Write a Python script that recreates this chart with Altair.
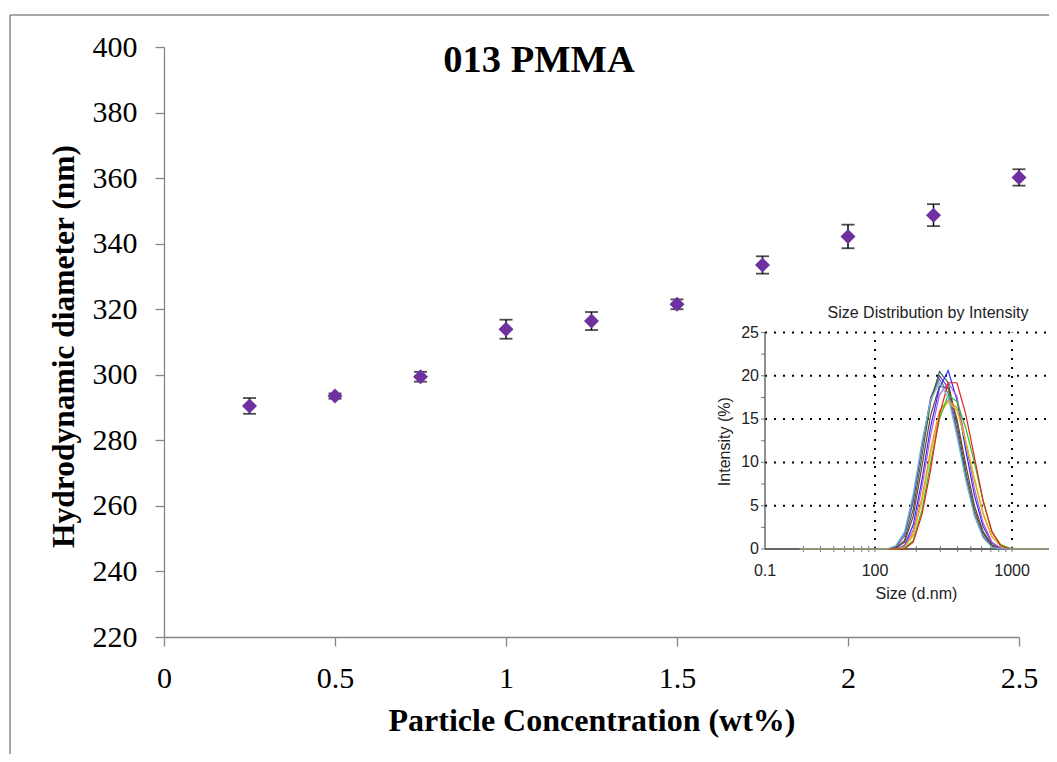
import altair as alt
import pandas as pd

# ---------------- main chart data ----------------
conc = [0.25, 0.5, 0.75, 1.0, 1.25, 1.5, 1.75, 2.0, 2.25, 2.5]
diam = [290.5, 293.5, 299.4, 313.9, 316.4, 321.5, 333.5, 342.2, 348.7, 360.2]
err = [2.4, 0.8, 1.5, 2.9, 2.75, 1.5, 2.65, 3.6, 3.35, 2.5]
x_ticks = [0, 0.5, 1, 1.5, 2, 2.5]
y_ticks = [220, 240, 260, 280, 300, 320, 340, 360, 380, 400]
title_text = "013 PMMA"
x_title = "Particle Concentration (wt%)"
y_title = "Hydrodynamic diameter (nm)"

# ---------------- inset data ----------------
sizes = [28.21, 32.67, 37.84, 43.82, 50.75, 58.77, 68.06, 78.82, 91.28, 105.7,
         122.4, 141.8, 164.2, 190.1, 220.2, 255.0, 295.3, 342.0, 396.1, 458.7,
         531.2, 615.1, 712.4, 825.0, 955.4, 1106, 1281, 1484, 1718, 1990, 2305]
run_slate = [0, 0, 0, 0, 0, 0, 0, 0, 0, 0,
             0, 0.3, 1.8, 6.0, 12.2, 17.4, 19.6, 18.0, 13.4, 8.2,
             4.0, 1.5, 0.3, 0, 0, 0, 0, 0, 0, 0, 0]
run_purple = [0, 0, 0, 0, 0, 0, 0, 0, 0, 0,
              0, 0.2, 1.5, 5.5, 11.8, 17.5, 20.0, 18.6, 13.8, 8.4,
              4.0, 1.4, 0.3, 0, 0, 0, 0, 0, 0, 0, 0]
run_dkgreen = [0, 0, 0, 0, 0, 0, 0, 0, 0, 0,
               0, 0.1, 1.0, 4.6, 10.8, 17.0, 20.5, 19.2, 14.5, 9.0,
               4.5, 1.8, 0.4, 0, 0, 0, 0, 0, 0, 0, 0]
run_brown = [0, 0, 0, 0, 0, 0, 0, 0, 0, 0,
             0, 0.1, 0.8, 3.8, 9.6, 15.5, 18.8, 18.6, 15.0, 9.8,
             5.0, 2.0, 0.5, 0, 0, 0, 0, 0, 0, 0, 0]
run_blue = [0, 0, 0, 0, 0, 0, 0, 0, 0, 0,
            0, 0, 0.4, 2.8, 8.0, 14.2, 18.6, 20.6, 17.2, 11.5,
            6.2, 2.6, 0.7, 0.1, 0, 0, 0, 0, 0, 0, 0]
run_violet = [0, 0, 0, 0, 0, 0, 0, 0, 0, 0,
              0, 0, 0.3, 2.2, 7.2, 13.2, 17.8, 19.2, 17.6, 12.4,
              7.0, 3.0, 0.8, 0.1, 0, 0, 0, 0, 0, 0, 0]
run_orange = [0, 0, 0, 0, 0, 0, 0, 0, 0, 0,
              0, 0, 0.2, 1.8, 6.0, 11.5, 16.0, 17.2, 16.3, 12.5,
              8.0, 4.0, 1.4, 0.4, 0.1, 0, 0, 0, 0, 0, 0]
run_yellow = [0, 0, 0, 0, 0, 0, 0, 0, 0, 0,
              0, 0, 0.2, 1.5, 5.5, 11.0, 15.5, 17.0, 16.0, 12.5,
              8.2, 4.2, 1.5, 0.3, 0, 0, 0, 0, 0, 0, 0]
run_green = [0, 0, 0, 0, 0, 0, 0, 0, 0, 0,
             0, 0, 0.1, 1.0, 4.5, 10.0, 15.0, 17.8, 17.0, 14.0,
             10.0, 5.5, 2.0, 0.5, 0.1, 0, 0, 0, 0, 0, 0]
run_red = [0, 0, 0, 0, 0, 0, 0, 0, 0, 0,
           0, 0, 0, 0.8, 4.0, 9.2, 15.5, 19.2, 19.2, 15.6,
           10.6, 5.6, 2.0, 0.4, 0, 0, 0, 0, 0, 0, 0]
run_teal = [0, 0, 0, 0, 0, 0, 0, 0, 0, 0,
            0, 0.4, 2.0, 6.4, 12.4, 17.2, 19.2, 17.5, 13.0, 8.0,
            3.8, 1.3, 0.2, 0, 0, 0, 0, 0, 0, 0, 0]
run_names = ["Record 1", "Record 2", "Record 3", "Record 4", "Record 5", "Record 6",
             "Record 7", "Record 8", "Record 9", "Record 10", "Record 11"]
run_values = [run_slate, run_purple, run_dkgreen, run_brown, run_blue, run_violet,
              run_orange, run_yellow, run_green, run_red, run_teal]
run_colors = ["#6a7c96", "#7b3fc4", "#2f6b3a", "#7a3b2e", "#2b2bff", "#b05ad8",
              "#f08a1e", "#d6c21e", "#2dbe2d", "#e8221b", "#6fbfc9"]

inset_title = "Size Distribution by Intensity"
inset_xtitle = "Size (d.nm)"
inset_ytitle = "Intensity (%)"
inset_xmin, inset_xmax = 15.74, 2128
inset_ymin, inset_ymax = 0, 25
inset_grid_y = [5, 10, 15, 20, 25]
inset_grid_x = [100, 1000]
inset_ytick_values = [0, 2.5, 5, 7.5, 10, 12.5, 15, 17.5, 20, 22.5, 25]
inset_ylabel_values = [0, 5, 10, 15, 20, 25]
inset_ylabel_text = ["0", "5", "10", "15", "20", "25"]
inset_xtick_values = [30, 40, 50, 60, 70, 80, 90, 100,
                      200, 300, 400, 500, 600, 700, 800, 900, 1000, 2000]
inset_xlabel_values = [15.74, 100, 1000]
inset_xlabel_text = ["0.1", "100", "1000"]

SERIF = "Liberation Serif"
SANS = "Liberation Sans"
AXGRAY = "#868686"
FRAME = "#8a8a8a"
PURPLE = "#7030A0"
INS_FS = 16

# ---------------- main chart ----------------
main_df = pd.DataFrame({
    "conc": conc,
    "diam": diam,
    "lo": [d - e for d, e in zip(diam, err)],
    "hi": [d + e for d, e in zip(diam, err)],
})

main_xscale = alt.Scale(domain=[0, 2.5], nice=False, zero=False)
main_yscale = alt.Scale(domain=[220, 400], nice=False, zero=False)

main_xaxis = alt.Axis(
    orient="bottom", values=x_ticks, format="~g", grid=False,
    domainColor=AXGRAY, domainWidth=1.3, tickColor=AXGRAY, tickWidth=1.3, tickSize=9,
    labelFont=SERIF, labelFontSize=30, labelColor="black", labelBaseline="alphabetic",
    labelPadding=41, labelFlush=False, labelOverlap=False,
    titleFont=SERIF, titleFontSize=32, titleFontWeight="bold", titleColor="black",
    titleX=427.5, titleY=93, titleBaseline="alphabetic", titleAlign="center",
)
main_yaxis = alt.Axis(
    orient="left", values=y_ticks, grid=False,
    domainColor=AXGRAY, domainWidth=1.3, tickColor=AXGRAY, tickWidth=1.3, tickSize=9,
    labelFont=SERIF, labelFontSize=30, labelColor="black", labelPadding=18,
    labelFlush=False, labelOverlap=False,
    titleFont=SERIF, titleFontSize=31.5, titleFontWeight="bold", titleColor="black",
    titleX=-91, titleY=299, titleAngle=270, titleBaseline="alphabetic", titleAlign="center",
)


def MX(field):
    return alt.X(f"{field}:Q", scale=main_xscale, axis=main_xaxis, title=x_title)


def MY(field):
    return alt.Y(f"{field}:Q", scale=main_yscale, axis=main_yaxis, title=y_title)


base = alt.Chart(main_df)
err_rule = base.mark_rule(color="black", strokeWidth=1.5).encode(
    x=MX("conc"), y=MY("lo"), y2="hi:Q")
cap_lo = base.mark_tick(orient="horizontal", size=13, thickness=1.8, color="black").encode(
    x=MX("conc"), y=MY("lo"))
cap_hi = base.mark_tick(orient="horizontal", size=13, thickness=1.8, color="black").encode(
    x=MX("conc"), y=MY("hi"))
points = base.mark_point(shape="diamond", filled=True, size=225, color=PURPLE,
                         opacity=1, strokeWidth=0).encode(x=MX("conc"), y=MY("diam"))

one = pd.DataFrame({"t": [title_text]})
title_mark = alt.Chart(one).mark_text(
    font=SERIF, fontSize=38.5, fontWeight="bold", color="black",
    align="center", baseline="alphabetic").encode(
    text="t:N", x=alt.value(375), y=alt.value(25))

frame_df = pd.DataFrame({"k": [0]})
frame_left = alt.Chart(frame_df).mark_rule(color=FRAME, strokeWidth=1.5).encode(
    x=alt.value(-154), y=alt.value(-32), y2=alt.value(720))
frame_top = alt.Chart(frame_df).mark_rule(color=FRAME, strokeWidth=1.5).encode(
    x=alt.value(-154), x2=alt.value(900), y=alt.value(-32))

main_layer = alt.layer(frame_left, frame_top, err_rule, cap_lo, cap_hi, points, title_mark)

# ---------------- inset ----------------
ins_xscale = alt.Scale(type="log", domain=[inset_xmin, inset_xmax], range=[601, 893], nice=False)
ins_yscale = alt.Scale(domain=[inset_ymin, inset_ymax], range=[502, 285.5], nice=False, zero=False)


def IX(field):
    return alt.X(f"{field}:Q", scale=ins_xscale, axis=None)


def IY(field):
    return alt.Y(f"{field}:Q", scale=ins_yscale, axis=None)


rows = []
for name, vals in zip(run_names, run_values):
    for s, v in zip(sizes, vals):
        rows.append({"run": name, "size": s, "intensity": v})
curve_df = pd.DataFrame(rows)

gh_df = pd.DataFrame({"g": inset_grid_y, "x0": inset_xmin, "x1": inset_xmax})
gv_df = pd.DataFrame({"g": inset_grid_x, "y0": inset_ymin, "y1": inset_ymax})
grid_h = alt.Chart(gh_df).mark_rule(color="black", strokeWidth=2, strokeDash=[2, 7]).encode(
    x=IX("x0"), x2="x1:Q", y=IY("g"))
grid_v = alt.Chart(gv_df).mark_rule(color="black", strokeWidth=2, strokeDash=[2, 7]).encode(
    y=IY("y0"), y2="y1:Q", x=IX("g"))

axx_df = pd.DataFrame({"x0": [inset_xmin], "x1": [inset_xmax], "y": [inset_ymin]})
axy_df = pd.DataFrame({"x": [inset_xmin], "y0": [inset_ymin], "y1": [inset_ymax]})
axis_x = alt.Chart(axx_df).mark_rule(color="#666666", strokeWidth=1.8).encode(
    x=IX("x0"), x2="x1:Q", y=IY("y"))
axis_y = alt.Chart(axy_df).mark_rule(color="#555555", strokeWidth=1.3).encode(
    x=IX("x"), y=IY("y0"), y2="y1:Q")

xt_df = pd.DataFrame({"t": inset_xtick_values, "y": inset_ymin})
yt_df = pd.DataFrame({"t": inset_ytick_values, "x": inset_xmin})
xticks = alt.Chart(xt_df).mark_tick(orient="vertical", size=6, thickness=1, color="#444444").encode(
    x=IX("t"), y=IY("y"))
yticks = alt.Chart(yt_df).mark_tick(orient="horizontal", size=4, thickness=1, color="#444444",
                                    xOffset=-2).encode(x=IX("x"), y=IY("t"))

curves = alt.Chart(curve_df).mark_line(strokeWidth=1.2).encode(
    x=IX("size"), y=IY("intensity"),
    color=alt.Color("run:N", scale=alt.Scale(domain=run_names, range=run_colors), legend=None),
    order=alt.Order("size:Q"))

xl_df = pd.DataFrame({"v": inset_xlabel_values, "lab": inset_xlabel_text, "y": inset_ymin})
yl_df = pd.DataFrame({"v": inset_ylabel_values, "lab": inset_ylabel_text, "x": inset_xmin})
xlabels = alt.Chart(xl_df).mark_text(font=SANS, fontSize=INS_FS, color="#222222", align="center",
                                     baseline="alphabetic", dy=27).encode(
    x=IX("v"), y=IY("y"), text="lab:N")
ylabels = alt.Chart(yl_df).mark_text(font=SANS, fontSize=INS_FS, color="#222222", align="right",
                                     baseline="middle", dx=-6).encode(
    x=IX("x"), y=IY("v"), text="lab:N")

t1 = alt.Chart(pd.DataFrame({"t": [inset_title]})).mark_text(
    font=SANS, fontSize=INS_FS, color="#222222", align="center", baseline="alphabetic").encode(
    text="t:N", x=alt.value(764), y=alt.value(270.7))
t2 = alt.Chart(pd.DataFrame({"t": [inset_xtitle]})).mark_text(
    font=SANS, fontSize=INS_FS, color="#222222", align="center", baseline="alphabetic").encode(
    text="t:N", x=alt.value(752.5), y=alt.value(552))
t3 = alt.Chart(pd.DataFrame({"t": [inset_ytitle]})).mark_text(
    font=SANS, fontSize=INS_FS, color="#222222", align="center", baseline="alphabetic",
    angle=270).encode(text="t:N", x=alt.value(566), y=alt.value(394.7))

inset_layer = alt.layer(grid_h, grid_v, axis_y, xticks, yticks, axis_x, curves,
                        xlabels, ylabels, t1, t2, t3)

chart = alt.layer(main_layer, inset_layer).resolve_scale(
    x="independent", y="independent", color="independent"
).properties(
    width=855, height=590,
    autosize=alt.AutoSizeParams(type="none"),
    padding={"left": 156, "top": 39, "right": 30, "bottom": 117},
    background="white",
).configure_view(stroke="transparent")

chart.save("out.html", embed_options={"renderer": "svg", "actions": False})
